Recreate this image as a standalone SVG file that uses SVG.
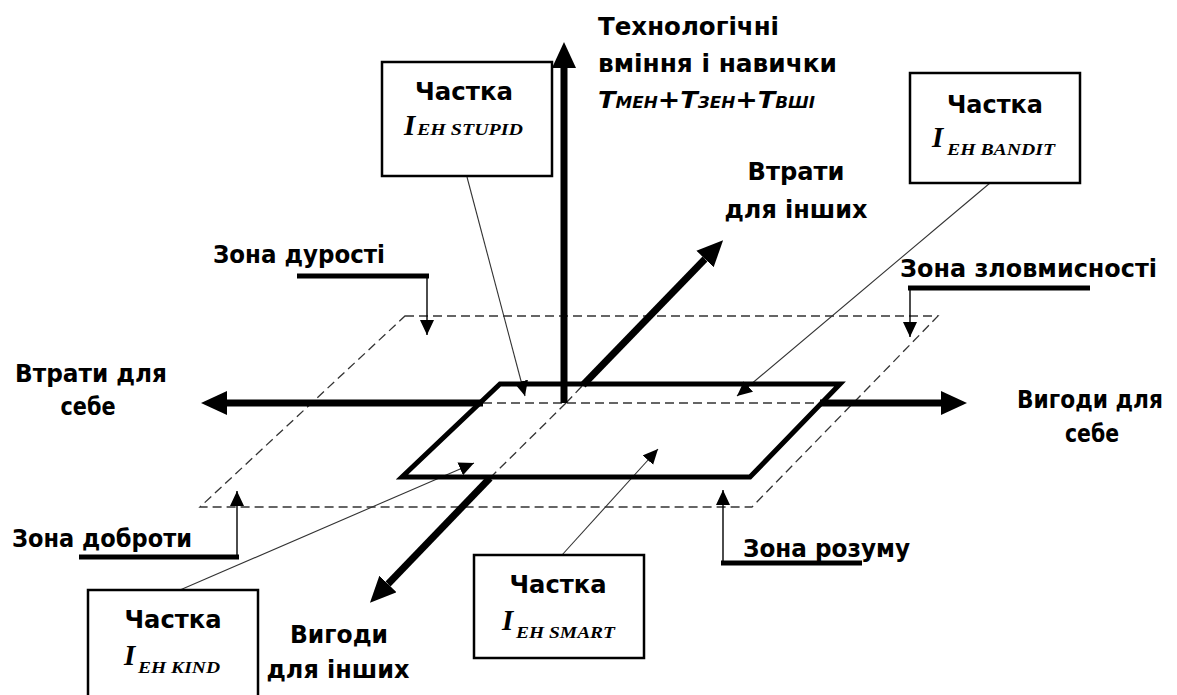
<svg xmlns="http://www.w3.org/2000/svg" width="1177" height="695" viewBox="0 0 1177 695">
<style>
text{font-family:'DejaVu Sans','Liberation Sans',sans-serif;font-weight:bold;font-size:24px;fill:#000}
.c{text-anchor:middle}
.ti{font-style:italic;font-size:23px}
.ts{font-style:italic;font-size:15px}
.I{font-family:'Liberation Serif',serif;font-style:italic;font-size:29px}
.sub{font-family:'Liberation Serif',serif;font-style:italic;font-size:17px}
.thick{stroke:#000;stroke-width:7;fill:none}
.para{stroke:#000;stroke-width:5;fill:none;stroke-linejoin:miter}
.dash{stroke:#333;stroke-width:1.3;fill:none;stroke-dasharray:9,5}
.ul{stroke:#000;stroke-width:5;fill:none}
.thin{stroke:#000;stroke-width:1.4;fill:none}
.lead{stroke:#333;stroke-width:1.1;fill:none}
.box{fill:#fff;stroke:#000;stroke-width:2.5}
</style>
<defs>
<marker id="big" markerUnits="userSpaceOnUse" markerWidth="30" markerHeight="30" refX="0" refY="12" orient="auto" viewBox="0 0 30 30">
<path d="M0,0 L26,12 L0,24 z" fill="#000"/>
</marker>
<marker id="small" markerUnits="userSpaceOnUse" markerWidth="16" markerHeight="16" refX="15" refY="7" orient="auto" viewBox="0 0 16 16">
<path d="M0,0 L15,7 L0,14 z" fill="#000"/>
</marker>
</defs>

<g id="zone-plane">
<polygon class="dash" points="405,316 938,316 752,507 200,507"/>
</g>

<g id="connectors">
<line class="dash" x1="483" y1="403" x2="820" y2="403"/>
<line class="dash" x1="566" y1="403" x2="490" y2="478"/>
<line class="dash" x1="566" y1="403" x2="583" y2="385"/>
<line class="thick" x1="564" y1="403" x2="564" y2="68" marker-end="url(#big)"/>
<line class="thick" x1="483" y1="403" x2="227" y2="403" marker-end="url(#big)"/>
<line class="thick" x1="820" y1="403" x2="941" y2="403" marker-end="url(#big)"/>
<line class="thick" x1="583" y1="385" x2="705" y2="259" marker-end="url(#big)"/>
<line class="thick" x1="490" y1="478" x2="388" y2="584" marker-end="url(#big)"/>
<line class="ul" x1="297" y1="276" x2="429" y2="276"/>
<line class="thin" x1="427" y1="276" x2="427" y2="335" marker-end="url(#small)"/>
<line class="ul" x1="908" y1="288" x2="1090" y2="288"/>
<line class="thin" x1="910" y1="288" x2="910" y2="337" marker-end="url(#small)"/>
<line class="ul" x1="79" y1="557" x2="239" y2="557"/>
<line class="thin" x1="237" y1="557" x2="237" y2="491" marker-end="url(#small)"/>
<line class="ul" x1="721" y1="563" x2="862" y2="563"/>
<line class="thin" x1="723" y1="563" x2="723" y2="490" marker-end="url(#small)"/>
<line class="lead" x1="467" y1="177" x2="525" y2="396" marker-end="url(#small)"/>
<line class="lead" x1="990" y1="183" x2="737" y2="396" marker-end="url(#small)"/>
<line class="lead" x1="180" y1="590" x2="474" y2="463" marker-end="url(#small)"/>
<line class="lead" x1="562" y1="555" x2="658" y2="449" marker-end="url(#small)"/>
</g>

<g id="plane">
<polygon class="para" points="500,384 840,384 750,477 402,477"/>
</g>

<g id="axis-tech">
<text x="598" y="35" textLength="181" lengthAdjust="spacingAndGlyphs">Технологічні</text>
<text x="598" y="72" textLength="239" lengthAdjust="spacingAndGlyphs">вміння і навички</text>
<text x="598" y="108" textLength="217" lengthAdjust="spacingAndGlyphs"><tspan class="ti">Т</tspan><tspan class="ts">МЕН</tspan>+<tspan class="ti">Т</tspan><tspan class="ts">ЗЕН</tspan>+<tspan class="ti">Т</tspan><tspan class="ts">ВШІ</tspan></text>
</g>
<g id="axis-loss-others">
<text x="796" y="180" class="c" textLength="97" lengthAdjust="spacingAndGlyphs">Втрати</text>
<text x="796" y="218" class="c" textLength="143" lengthAdjust="spacingAndGlyphs">для інших</text>
</g>
<g id="axis-loss-self">
<text x="91" y="382" class="c" textLength="152" lengthAdjust="spacingAndGlyphs">Втрати для</text>
<text x="88" y="415" class="c" textLength="55" lengthAdjust="spacingAndGlyphs">себе</text>
</g>
<g id="axis-gain-self">
<text x="1090" y="408" class="c" font-size="22" textLength="146" lengthAdjust="spacingAndGlyphs">Вигоди для</text>
<text x="1092" y="442" class="c" textLength="54" lengthAdjust="spacingAndGlyphs">себе</text>
</g>
<g id="axis-gain-others">
<text x="339" y="643" class="c" textLength="98" lengthAdjust="spacingAndGlyphs">Вигоди</text>
<text x="338" y="678" class="c" textLength="143" lengthAdjust="spacingAndGlyphs">для інших</text>
</g>

<g id="zone-stupid"><text x="213" y="263" textLength="172" lengthAdjust="spacingAndGlyphs">Зона дурості</text></g>
<g id="zone-bandit"><text x="900" y="277" textLength="257" lengthAdjust="spacingAndGlyphs">Зона зловмисності</text></g>
<g id="zone-kind"><text x="12" y="547" textLength="180" lengthAdjust="spacingAndGlyphs">Зона доброти</text></g>
<g id="zone-smart"><text x="743" y="557" textLength="167" lengthAdjust="spacingAndGlyphs">Зона розуму</text></g>

<g id="box-stupid">
<rect class="box" x="382" y="62" width="170" height="114"/>
<text x="464" y="100" class="c" textLength="98" lengthAdjust="spacingAndGlyphs">Частка</text>
<text x="404" y="135" class="I">I</text>
<text x="417" y="135" class="sub" font-size="15" textLength="106" lengthAdjust="spacingAndGlyphs">EH STUPID</text>
</g>
<g id="box-bandit">
<rect class="box" x="910" y="73" width="170" height="110"/>
<text x="995" y="113" class="c" textLength="96" lengthAdjust="spacingAndGlyphs">Частка</text>
<text x="932" y="147" class="I">I</text>
<text x="947" y="155" class="sub" textLength="108" lengthAdjust="spacingAndGlyphs">EH BANDIT</text>
</g>
<g id="box-kind">
<rect class="box" x="88" y="590" width="170" height="110"/>
<text x="173" y="628" class="c" textLength="97" lengthAdjust="spacingAndGlyphs">Частка</text>
<text x="124" y="665" class="I">I</text>
<text x="138" y="673" class="sub" textLength="82" lengthAdjust="spacingAndGlyphs">EH KIND</text>
</g>
<g id="box-smart">
<rect class="box" x="474" y="555" width="170" height="103"/>
<text x="558" y="593" class="c" textLength="97" lengthAdjust="spacingAndGlyphs">Частка</text>
<text x="502" y="630" class="I">I</text>
<text x="516" y="638" class="sub" textLength="99" lengthAdjust="spacingAndGlyphs">EH SMART</text>
</g>
</svg>
